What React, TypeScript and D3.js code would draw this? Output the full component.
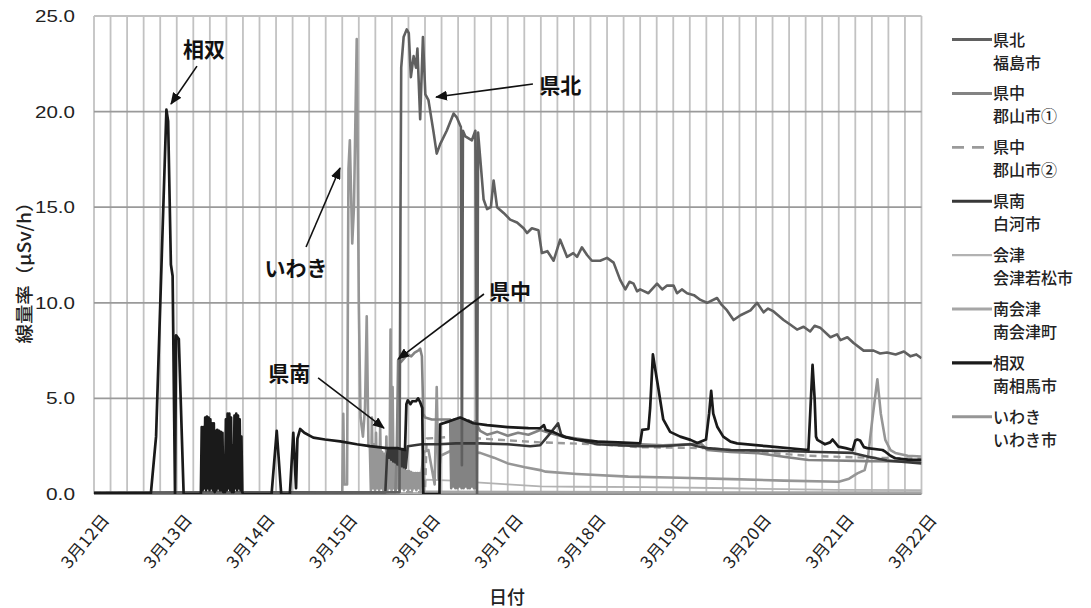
import React from "react";
import * as d3 from "d3";

type Pt = [number, number];

// ---- axis data ----
const dayLabels = ["3月12日", "3月13日", "3月14日", "3月15日", "3月16日", "3月17日", "3月18日", "3月19日", "3月20日", "3月21日", "3月22日"];
const yTicks = [0, 5, 10, 15, 20, 25];
const xTitle = "日付";
const yTitle = "線量率（μSv/h）";

// ---- series (time in hours from 3/12 0:00, value in μSv/h) ----
const burst = (start: number, step: number, vals: number[]): Pt[] => vals.map((v, i) => [start + i * step, v] as Pt);

const fukushima: Pt[] = [
  [0, 0.05], [88.6, 0.1], [88.9, 15], [89.1, 22.3], [89.8, 23.9], [90.7, 24.3], [91.3, 24.1], [91.9, 21.8], [92.7, 22.9], [93.4, 22.3], [93.8, 23.3],
  [94.6, 19.6], [95.4, 23.9], [96.1, 20.9], [97, 20.6], [98.5, 18.9], [99.4, 17.8], [100.4, 18.3], [102.3, 19.0], [104.3, 19.9], [105.2, 19.7],
  [106.4, 19.2], [106.7, 1.5], [107, 19.0], [107.7, 18.7], [109.6, 18.5], [110.6, 19.0], [111.1, 0], [111.4, 18.9], [112, 17.6], [113, 15.4],
  [114, 14.9], [115.1, 15.0], [115.9, 16.4], [116.9, 15.0], [118.8, 14.7], [120.7, 14.35], [122.7, 14.2], [124.6, 13.9], [125.6, 13.65],
  [127, 13.9], [128.9, 13.8], [129.9, 12.6], [131.5, 12.7], [133.3, 12.2], [135.2, 13.3], [137.2, 12.4], [139, 12.6], [140.1, 12.4], [141.5, 12.9],
  [143, 12.5], [144.4, 12.2], [146.8, 12.2], [148.8, 12.35], [150.7, 12.1], [152.6, 11.2], [154.1, 10.7], [155.3, 11.1], [156.5, 11.0], [157.5, 10.6],
  [158.4, 10.7], [160.8, 10.5], [163.3, 11.0], [164.8, 10.7], [166.2, 10.9], [168.1, 10.9], [169.1, 10.5], [170.5, 10.7], [172, 10.5], [174, 10.4],
  [175.9, 10.15], [177.8, 10.0], [180.7, 10.25], [182, 9.9], [183.6, 9.6], [185.5, 9.1], [187.5, 9.35], [190.4, 9.6], [192.3, 10.0], [194.2, 9.5],
  [195.5, 9.7], [197.1, 9.55], [200, 9.1], [202, 8.85], [203.9, 8.6], [205.8, 8.75], [207.7, 8.5], [209, 8.8], [210.6, 8.7], [213.6, 8.2],
  [215.5, 8.35], [216.5, 8.05], [218.5, 8.2], [220.3, 7.9], [223.2, 7.5], [226.1, 7.5], [228, 7.35], [230, 7.4], [232.5, 7.3], [234.9, 7.45],
  [236.8, 7.2], [238.5, 7.3], [240, 7.1],
];

const koriyama1Pre: Pt[] = [
  [0, 0.05], [87.4, 0.1], [87.8, 2], [88.2, 7.0], [89, 6.9], [90, 7.1], [91, 7.3], [92, 7.2], [93, 7.4], [94, 7.5], [94.6, 7.6], [95.1, 7.2],
  [95.5, 4.2], [96, 4.0], [98, 3.9], [100, 3.9], [103, 3.9],
];
const koriyama1BurstStart = 103.3;
const koriyama1BurstStep = 0.3;
const koriyama1Burst = [3.9, 0.3, 3.85, 0.4, 3.9, 0.3, 3.8, 0.3, 3.9, 0.4, 3.85, 0.3, 3.8, 0.3, 3.9, 0.4, 3.8, 0.3, 3.85, 0.3, 3.8, 0.4, 3.75, 0.3, 3.8, 0.3, 3.6];
const koriyama1Post: Pt[] = [
  [112, 3.3], [114, 3.1], [117, 3.25], [120, 3.05], [123, 3.2], [126, 3.1], [129.4, 3.35], [132, 3.2], [136.1, 3.0], [146, 2.75], [152, 2.65],
  [158.4, 2.6], [165, 2.55], [173, 2.6], [176, 2.65], [177.9, 2.3], [184.6, 2.2], [192.7, 2.13], [200, 1.95], [207.2, 1.78], [215, 1.75],
  [224, 1.72], [240, 1.7],
];

const koriyama2: Pt[] = [
  [0, 0.05], [96, 0.1], [96.5, 2.9], [104, 3.0], [112, 2.9], [129.4, 2.7], [146, 2.6], [158.4, 2.45], [177, 2.4], [184.6, 2.3], [207, 2.0],
  [224, 1.9], [240, 1.85],
];

const shirakawaPre: Pt[] = [[0, 0.05], [84.5, 0.1], [85, 2.0]];
const shirakawaBurstStart = 85.3;
const shirakawaBurstStep = 0.3;
const shirakawaBurst = [2.35, 1.9, 2.35, 1.8, 2.35, 1.7, 2.35, 1.65, 2.35, 1.55, 2.35, 1.5, 2.35, 1.45, 2.35, 1.4, 2.35];
const shirakawaPost: Pt[] = [
  [90.4, 1.35], [91, 2.5], [95, 2.6], [100, 2.6], [105, 2.65], [112, 2.65], [120, 2.6], [126.5, 2.5], [129.4, 2.55], [132.3, 3.17], [134.6, 3.7],
  [135.5, 3.1], [137, 2.95], [146, 2.6], [158.4, 2.5], [165, 2.5], [173, 2.6], [175, 2.5], [177.9, 2.4], [184.6, 2.3], [200, 2.25], [210, 2.2],
  [220, 2.15], [224.3, 1.96], [230, 1.75], [240, 1.6],
];

const aizuwakamatsu: Pt[] = [
  [0, 0.05], [95, 0.06], [96, 0.75], [104, 0.7], [112, 0.6], [120, 0.5], [129.4, 0.4], [140, 0.38], [160, 0.36], [185, 0.3], [200, 0.25],
  [215, 0.22], [240, 0.2],
];

const minamiaizu: Pt[] = [[0, 0.03], [95, 0.04], [96, 0.12], [130, 0.1], [180, 0.08], [240, 0.08]];

const minamisomaPre: Pt[] = [
  [0, 0.05], [16.5, 0.05], [18, 3], [21, 20.1], [21.5, 19.5], [22.3, 12], [22.8, 11.4], [23.5, 0], [23.8, 8.3], [24.6, 8.1], [26, 0], [30.9, 0],
];
const minamisomaBurstStart = 31;
const minamisomaBurstStep = 0.25;
const minamisomaBurst = [
  0, 3.5, 0.2, 3.5, 0.3, 4.0, 0.2, 4.05, 0.3, 4.0, 0.2, 3.9, 0.3, 3.7, 0.2, 3.7, 0.1, 3.3, 0.2, 3.35, 0.3, 3.3, 0.2, 3.25, 0.2, 3.2, 0.1, 2.0,
  0.1, 3.9, 0.2, 4.2, 0.3, 4.2, 0.2, 4.0, 0.1, 2.5, 0.1, 4.1, 0.3, 4.2, 0.2, 4.1, 0.3, 3.9, 0.2, 3.0, 0.1, 0,
];
const minamisomaPost: Pt[] = [
  [51.5, 0], [53, 3.3], [54.3, 0], [56.8, 0], [57.8, 3.2], [58.6, 0.3], [59.0, 2.9], [59.8, 3.4], [61, 3.2], [63.6, 2.95], [67, 2.85],
  [71.4, 2.75], [76.2, 2.6], [80, 2.5], [85, 2.4], [88, 2.4], [90.2, 2.3], [90.6, 4.7], [91, 4.9], [91.8, 4.7], [92.3, 4.85], [93.4, 4.85],
  [94, 5.0], [94.6, 4.8], [95.2, 4.5], [95.5, 0], [100.2, 0], [100.4, 3.65], [103, 3.8], [106.2, 4.0], [110, 3.7], [114, 3.6], [120, 3.5],
  [126, 3.45], [129.4, 3.44], [130.5, 3.6], [131, 3.35], [133, 3.26], [136.1, 3.0], [140, 2.85], [146, 2.74], [152, 2.7], [158.4, 2.65],
  [159, 3.35], [160.8, 3.4], [161.3, 4.5], [162.1, 7.3], [162.8, 6.5], [163.7, 5.5], [165.1, 3.9], [167.1, 3.25], [170, 3.0], [173, 2.83],
  [175, 2.67], [177.5, 2.85], [178.4, 4.2], [179, 5.4], [179.6, 4.2], [180.8, 3.5], [182.5, 3.0], [184.6, 2.74], [186.5, 2.65], [195, 2.5],
  [207.2, 2.3], [207.8, 4.5], [208.4, 6.75], [209, 5.0], [209.4, 3.0], [209.8, 2.83], [212, 2.6], [213.5, 2.7], [214.2, 2.85], [215.9, 2.48],
  [218, 2.4], [220, 2.3], [220.8, 2.8], [221.4, 2.85], [222.2, 2.8], [223.3, 2.45], [224.3, 2.4], [228.7, 2.3], [229.6, 2.2], [231, 2.0],
  [232.4, 1.87], [236, 1.8], [240, 1.78],
];

const iwakiPre: Pt[] = [
  [0, 0.05], [72, 0.1], [72.3, 4.2], [72.6, 0.5], [73.4, 0.5], [73.8, 17], [74.2, 18.5], [74.9, 13.1], [75.4, 15], [76.2, 23.8], [76.8, 10],
  [77.3, 4], [78.0, 3], [78.6, 4.5], [79.1, 9.3], [79.6, 2.5],
];
const iwakiBurstStart = 80;
const iwakiBurstStep = 0.3;
const iwakiBurst = [
  2.5, 0.2, 4.0, 0.3, 2.6, 0.2, 3.2, 0.3, 2.4, 0.2, 3.5, 0.3, 2.2, 0.2, 2.1, 0.3, 3.0, 0.2, 1.9, 0.3, 8.6, 0.2, 5.6, 0.3, 1.7, 0.2, 1.6, 0.3,
  1.5, 0.2, 1.4, 0.3, 1.3, 0.2, 1.25, 0.3, 1.2, 0.2, 1.2, 0.3, 1.15, 0.2, 1.1, 0.3, 1.1, 0.2, 1.1, 0.3, 1.1, 0.2, 1.1,
];
const iwakiPost: Pt[] = [
  [95.6, 2.2], [97, 2.3], [98.8, 0.5], [99.4, 5.6], [99.9, 0.8], [100.5, 2.0], [104, 2.3], [108, 2.2], [112, 2.15], [116, 1.9], [120, 1.6],
  [125, 1.4], [129.4, 1.25], [131, 1.17], [140, 1.05], [155, 0.91], [170, 0.85], [185, 0.78], [200, 0.7], [216, 0.64], [219, 0.8],
  [221.4, 1.08], [223.5, 1.25], [224.5, 1.96], [225.8, 4.0], [227.2, 6.0], [228.2, 4.2], [229.5, 2.83], [231, 2.3], [232.4, 2.15], [236, 2.0],
  [240, 1.96],
];

// ---- legend ----
const legendRegion = ["県北", "県中", "県中", "県南", "会津", "南会津", "相双", "いわき"];
const legendCity = ["福島市", "郡山市①", "郡山市②", "白河市", "会津若松市", "南会津町", "南相馬市", "いわき市"];
const seriesColors = ["#606060", "#838383", "#9a9a9a", "#383838", "#b2b2b2", "#a6a6a6", "#1a1a1a", "#969696"];
const seriesWidths = [2.6, 2.6, 2.4, 2.6, 1.8, 2.6, 2.7, 2.6];
const seriesDash = ["", "", "7,5", "", "", "", "", ""];
const drawOrder = [5, 4, 7, 2, 1, 3, 0, 6];

// ---- annotations (data coords) ----
const annoText = ["相双", "いわき", "県南", "県中", "県北"];
const annoTextPos: Pt[] = [[31.9, 22.86], [58.6, 11.4], [56.6, 5.91], [120.65, 10.2], [135.2, 20.97]];
const annoFrom: Pt[] = [[29.87, 22.38], [61.5, 12.92], [65.0, 6.07], [113.1, 10.46], [127.3, 21.44]];
const annoTo: Pt[] = [[22.33, 20.4], [71.35, 17.05], [84.1, 3.45], [88.2, 7.06], [99.2, 20.76]];

const series: Pt[][] = [
  fukushima,
  [...koriyama1Pre, ...burst(koriyama1BurstStart, koriyama1BurstStep, koriyama1Burst), ...koriyama1Post],
  koriyama2,
  [...shirakawaPre, ...burst(shirakawaBurstStart, shirakawaBurstStep, shirakawaBurst), ...shirakawaPost],
  aizuwakamatsu,
  minamiaizu,
  [...minamisomaPre, ...burst(minamisomaBurstStart, minamisomaBurstStep, minamisomaBurst), ...minamisomaPost],
  [...iwakiPre, ...burst(iwakiBurstStart, iwakiBurstStep, iwakiBurst), ...iwakiPost],
];

const W = 1091;
const H = 608;
const PL = 94;
const PR = 921.5;
const PT = 16;
const PB = 494;

export default function App() {
  const x = d3.scaleLinear().domain([0, 240]).range([PL, PR]);
  const y = d3.scaleLinear().domain([0, 25]).range([PB, PT]);
  const line = d3.line<Pt>().x((d) => x(d[0])).y((d) => y(Math.max(0, d[1])));
  const vGrid = d3.range(0, 240.01, 4.8);
  const sans = "'Liberation Sans', Arial, sans-serif";
  const jp = "'Noto Sans CJK JP', 'Noto Sans', sans-serif";

  return (
    <svg width={W} height={H} style={{ position: "absolute", left: 0, top: 0, background: "#fff" }}>
      <defs>
        <marker id="arrow" viewBox="0 0 12 10" refX="11" refY="5" markerWidth="12" markerHeight="10" markerUnits="userSpaceOnUse" orient="auto">
          <path d="M0,0 L12,5 L0,10 Z" fill="#111" />
        </marker>
        <clipPath id="plotclip">
          <rect x={PL} y={PT - 2} width={PR - PL} height={PB - PT + 2} />
        </clipPath>
      </defs>

      {/* grid */}
      {vGrid.map((t, i) => (
        <line key={"v" + i} x1={x(t)} x2={x(t)} y1={PT} y2={PB} stroke="#c2c2c2" strokeWidth={1.8} />
      ))}
      {yTicks.map((v) => (
        <line key={"h" + v} x1={PL} x2={PR} y1={y(v)} y2={y(v)} stroke={v === 0 ? "#8a8a8a" : v === 25 ? "#c2c2c2" : "#9a9a9a"} strokeWidth={v === 0 ? 2.2 : 1.8} />
      ))}

      {/* series */}
      <g clipPath="url(#plotclip)">
        {drawOrder.map((i) => (
          <path
            key={"s" + i}
            d={line(series[i]) || ""}
            fill="none"
            stroke={seriesColors[i]}
            strokeWidth={seriesWidths[i]}
            strokeDasharray={seriesDash[i] || undefined}
            strokeLinejoin="round"
          />
        ))}
      </g>

      {/* y tick labels */}
      {yTicks.map((v) => (
        <text key={"yt" + v} x={75} y={y(v) + 6} textAnchor="end" fontFamily={sans} fontSize={16.5} fill="#222"
          textLength={v >= 10 ? 40 : 29} lengthAdjust="spacingAndGlyphs">
          {v.toFixed(1)}
        </text>
      ))}

      {/* x tick labels */}
      {dayLabels.map((lab, i) => {
        const px = x(i * 24) + 6;
        const py = 512;
        return (
          <text key={"xt" + i} transform={`translate(${px},${py}) rotate(-50)`} textAnchor="end" dy="0.8em" fontFamily={jp}
            fontSize={16.5} fill="#222" textLength={64} lengthAdjust="spacingAndGlyphs">
            {lab}
          </text>
        );
      })}

      {/* axis titles */}
      <text x={507} y={604} textAnchor="middle" fontFamily={jp} fontSize={18} fontWeight={500} fill="#222">{xTitle}</text>
      <text transform={`translate(31,268) rotate(-90)`} textAnchor="middle" fontFamily={jp} fontSize={18} fontWeight={500} fill="#222"
        textLength={151} lengthAdjust="spacingAndGlyphs">{yTitle}</text>

      {/* annotations */}
      {annoText.map((t, i) => (
        <g key={"a" + i}>
          <line x1={x(annoFrom[i][0])} y1={y(annoFrom[i][1])} x2={x(annoTo[i][0])} y2={y(annoTo[i][1])} stroke="#111" strokeWidth={1.6}
            markerEnd="url(#arrow)" />
          <text x={x(annoTextPos[i][0])} y={y(annoTextPos[i][1])} textAnchor="middle" fontFamily={jp} fontSize={21} fontWeight={700} fill="#111">
            {t}
          </text>
        </g>
      ))}

      {/* legend */}
      {legendRegion.map((r, i) => {
        const ly = 39.5 + i * 53.9;
        return (
          <g key={"l" + i}>
            <line x1={952} x2={992} y1={ly} y2={ly} stroke={seriesColors[i]} strokeWidth={seriesWidths[i] + 0.4}
              strokeDasharray={seriesDash[i] ? "12,8" : undefined} />
            <text x={993} y={ly + 6} fontFamily={jp} fontSize={16} fontWeight={500} fill="#222">{r}</text>
            <text x={993} y={ly + 29} fontFamily={jp} fontSize={16} fontWeight={500} fill="#222">{legendCity[i]}</text>
          </g>
        );
      })}
    </svg>
  );
}
